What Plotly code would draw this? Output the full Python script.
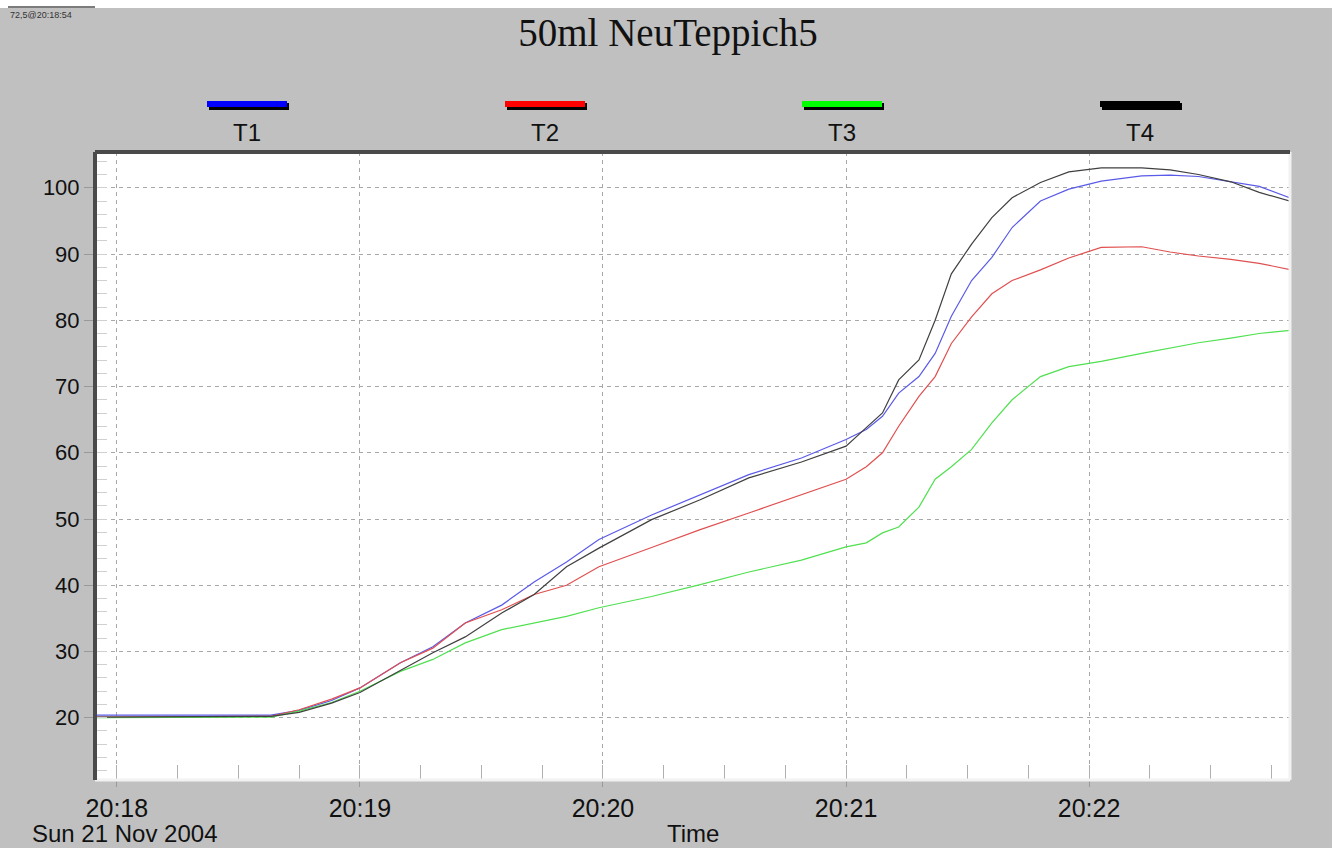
import pandas as pd
import plotly.graph_objects as go

# ── Data (seconds after 20:18:00 on 21 Nov 2004) ──────────────────────────────
secs = [-5, 38, 45, 53, 60, 70, 78, 86, 95, 103, 111, 119, 132, 144, 156, 169,
        180, 185, 189, 193, 198, 202, 206, 211, 216, 221, 228, 235, 243, 253,
        260, 267, 275, 282, 290]

t1 = [20.4, 20.4, 21.1, 22.6, 24.5, 28.3, 30.7, 34.3, 37.0, 40.5, 43.5, 46.9,
      50.6, 53.7, 56.7, 59.2, 62.0, 63.5, 65.5, 69.0, 71.5, 75.0, 80.6, 86.0,
      89.5, 94.0, 98.0, 99.8, 101.0, 101.8, 101.9, 101.7, 100.9, 100.2, 98.4]
t2 = [20.1, 20.2, 21.2, 22.8, 24.5, 28.3, 30.5, 34.3, 36.3, 38.6, 40.0, 42.8,
      45.7, 48.4, 50.9, 53.6, 56.0, 57.9, 60.0, 64.0, 68.5, 71.5, 76.5, 80.5,
      84.0, 86.0, 87.6, 89.4, 91.0, 91.1, 90.3, 89.7, 89.2, 88.6, 87.6]
t3 = [20.0, 20.1, 21.0, 22.3, 24.0, 27.0, 28.8, 31.3, 33.3, 34.3, 35.3, 36.6,
      38.3, 40.1, 42.0, 43.8, 45.8, 46.4, 47.9, 48.8, 51.8, 56.0, 57.9, 60.5,
      64.5, 68.0, 71.5, 73.0, 73.8, 75.0, 75.8, 76.6, 77.3, 78.0, 78.5]
t4 = [20.1, 20.2, 20.8, 22.2, 23.8, 27.2, 29.8, 32.2, 35.8, 38.6, 42.8, 45.6,
      49.9, 52.9, 56.2, 58.6, 61.0, 63.8, 66.0, 71.0, 74.0, 80.0, 87.0, 91.5,
      95.5, 98.5, 100.8, 102.4, 103.0, 103.0, 102.7, 102.0, 100.9, 99.3, 97.9]

names = ["T1", "T2", "T3", "T4"]
line_colors = ["#5a5ae8", "#e05050", "#50e050", "#404040"]
key_colors = ["#0000ff", "#ff0000", "#00ff00", "#000000"]

BG = "#c0c0c0"
FONT = "Liberation Sans, Arial, sans-serif"

base = pd.Timestamp("2004-11-21 20:18:00")
times = base + pd.to_timedelta(secs, unit="s")

# plot area in pixels: left 95, right 1290, top 152, bottom 780
W, H = 1341, 848
L, R, T, B = 95, 1290, 152, 780


def px_x(px):
    return (px - L) / (R - L)


def px_y(py):
    return (B - py) / (B - T)


fig = go.Figure()
for name, ys, col in zip(names, [t1, t2, t3, t4], line_colors):
    fig.add_trace(go.Scatter(
        x=times, y=ys, name=name, mode="lines",
        line=dict(color=col, width=1.2),
        showlegend=False,
    ))

shapes = []
annotations = []

# legend keys drawn above the plot
key_centers = [247, 545, 842, 1140]
for cx, name, col in zip(key_centers, names, key_colors):
    shapes.append(dict(type="rect", xref="paper", yref="paper",
                       x0=px_x(cx - 38), x1=px_x(cx + 42),
                       y0=px_y(110), y1=px_y(103),
                       fillcolor="#000000", line=dict(width=0)))
    shapes.append(dict(type="rect", xref="paper", yref="paper",
                       x0=px_x(cx - 40), x1=px_x(cx + 40),
                       y0=px_y(107), y1=px_y(101),
                       fillcolor=col, line=dict(width=0)))
    annotations.append(dict(text=name, xref="paper", yref="paper",
                            x=px_x(cx), y=px_y(132), showarrow=False,
                            xanchor="center", yanchor="middle",
                            font=dict(family=FONT, size=24, color="#111111")))

# sunken 3D frame round the plot
shapes += [
    dict(type="line", xref="paper", yref="paper", x0=1, x1=1, y0=0, y1=1,
         line=dict(color="#f2f2f2", width=3)),
    dict(type="line", xref="paper", yref="paper", x0=0, x1=1, y0=0, y1=0,
         line=dict(color="#f2f2f2", width=3)),
    dict(type="line", xref="paper", yref="paper", x0=0, x1=0, y0=0, y1=1,
         line=dict(color="#4a4a4a", width=4)),
    dict(type="line", xref="paper", yref="paper", x0=0, x1=1, y0=1, y1=1,
         line=dict(color="#4a4a4a", width=4)),
]

# white strips at top and right of the window
shapes += [
    dict(type="rect", xref="paper", yref="paper", layer="below",
         x0=px_x(-2), x1=px_x(W + 2), y0=px_y(8), y1=px_y(-2),
         fillcolor="#ffffff", line=dict(width=0)),
    dict(type="rect", xref="paper", yref="paper", layer="below",
         x0=px_x(1332), x1=px_x(W + 2), y0=px_y(H + 2), y1=px_y(-2),
         fillcolor="#ffffff", line=dict(width=0)),
    dict(type="line", xref="paper", yref="paper",
         x0=px_x(8), x1=px_x(95), y0=px_y(7), y1=px_y(7),
         line=dict(color="#505050", width=1.5)),
]

annotations += [
    dict(text="72,5@20:18:54", xref="paper", yref="paper",
         x=px_x(8), y=px_y(15), xanchor="left", yanchor="middle",
         showarrow=False, font=dict(family=FONT, size=9, color="#333333")),
    dict(text="Sun 21 Nov 2004", xref="paper", yref="paper",
         x=px_x(30), y=px_y(833), xanchor="left", yanchor="middle",
         showarrow=False, font=dict(family=FONT, size=24, color="#111111")),
    dict(text="Time", xref="paper", yref="paper",
         x=px_x(693), y=px_y(833), xanchor="center", yanchor="middle",
         showarrow=False, font=dict(family=FONT, size=24, color="#111111")),
]

fig.update_layout(
    width=W, height=H,
    paper_bgcolor=BG, plot_bgcolor="#ffffff",
    margin=dict(l=L, r=W - R, t=T, b=H - B),
    title=dict(text="50ml NeuTeppich5", x=668 / W, xanchor="center",
               y=1 - 32 / H, yanchor="middle",
               font=dict(family="Liberation Serif, Times New Roman, serif",
                         size=39, color="#111111")),
    xaxis=dict(
        type="date",
        range=["2004-11-21 20:17:54.6", "2004-11-21 20:22:49.6"],
        dtick=60000, tick0="2004-11-21 20:18:00", tickformat="%H:%M",
        ticks="outside", ticklen=6, tickcolor="#999999", tickwidth=1,
        showgrid=True, gridcolor="#a8a8a8", griddash="4px,4px", gridwidth=1,
        minor=dict(dtick=15000, tick0="2004-11-21 20:18:00", ticks="inside",
                   ticklen=15, tickcolor="#b0b0b0", showgrid=False),
        tickfont=dict(family=FONT, size=25, color="#111111"),
        showline=False, zeroline=False,
    ),
    yaxis=dict(
        range=[10.6, 105.4], dtick=10, tick0=0,
        ticks="outside", ticklen=10, tickcolor="#999999", tickwidth=1,
        showgrid=True, gridcolor="#a8a8a8", griddash="4px,4px", gridwidth=1,
        minor=dict(dtick=2, ticks="inside", ticklen=12, tickcolor="#d0d0d0",
                   showgrid=False),
        tickfont=dict(family=FONT, size=22, color="#111111"),
        showline=False, zeroline=False,
    ),
    shapes=shapes,
    annotations=annotations,
)

fig.write_html(
    "out.html",
    config={"displayModeBar": False},
    post_script="document.body.style.margin='0';"
                "document.body.style.overflow='hidden';",
)
